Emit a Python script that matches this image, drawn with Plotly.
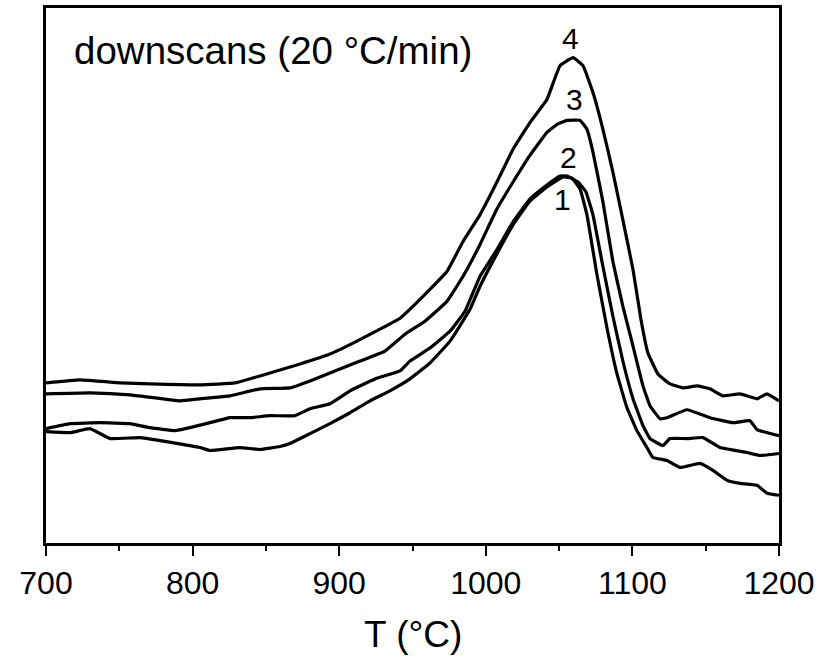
import plotly.graph_objects as go

FONT = "Liberation Sans, Arial, sans-serif"

# Curve 1 (downscan 1)
T1 = [700.0, 716.4, 730.0, 743.7, 764.1, 777.8, 805.0, 811.9, 832.3, 846.0, 859.6, 866.4,
      880.1, 893.7, 907.4, 921.0, 934.6, 948.3, 961.9, 975.6, 989.2, 996.0, 1007.6, 1018.6,
      1030.2, 1041.7, 1052.7, 1058.8, 1064.3, 1069.0, 1075.8, 1082.7, 1089.5, 1096.3, 1103.1,
      1109.9, 1114.0, 1123.6, 1132.5, 1146.1, 1154.9, 1164.5, 1173.4, 1185.0, 1191.8, 1200.0]
S1 = [112, 111, 115, 105, 106, 103, 96, 93, 96, 94, 97, 100,
      110, 120, 131, 143, 153, 165, 181, 203, 235, 258, 291, 320,
      344, 358, 368, 367, 356, 330, 270, 216, 170, 136, 113,
      96, 86, 83, 76, 80, 73, 63, 60, 58, 50, 48]

# Curve 2
T2 = [700.0, 716.4, 736.8, 757.3, 770.9, 788.0, 798.2, 811.9, 825.5, 839.2, 852.8, 869.8,
      880.1, 893.7, 907.4, 924.4, 941.5, 948.3, 961.9, 975.6, 985.8, 996.0, 1007.6, 1018.6,
      1030.2, 1041.7, 1050.6, 1055.4, 1062.9, 1068.3, 1073.1, 1079.9, 1086.7, 1093.5, 1100.4,
      1107.2, 1112.0, 1120.9, 1125.6, 1137.2, 1148.2, 1159.7, 1178.2, 1187.0, 1200.0]
S2 = [115, 120, 121, 120, 116, 113, 116, 121, 126, 126, 128, 128,
      135, 140, 153, 165, 173, 183, 196, 213, 233, 268, 295, 323,
      346, 360, 369, 369, 363, 353, 330, 278, 228, 183, 145,
      118, 105, 98, 105, 105, 106, 96, 91, 88, 90]

# Curve 3
T3 = [700.0, 730.0, 757.3, 791.4, 805.0, 825.5, 846.0, 866.4, 880.1, 900.5, 914.2, 931.2,
      944.9, 958.5, 973.5, 984.4, 996.0, 1007.6, 1018.6, 1030.2, 1041.7, 1048.6, 1055.4,
      1064.3, 1069.0, 1073.1, 1079.9, 1086.7, 1093.5, 1100.4, 1107.2, 1112.0, 1118.8, 1123.6,
      1137.2, 1152.9, 1168.6, 1180.2, 1185.0, 1200.0]
S3 = [150, 151, 149, 143, 145, 148, 155, 156, 163, 175, 183, 193,
      210, 223, 243, 268, 300, 336, 363, 390, 413, 421, 425,
      425, 416, 393, 343, 283, 238, 198, 158, 138, 125, 126,
      134, 126, 121, 123, 114, 108]

# Curve 4
T4 = [700.0, 723.2, 750.5, 770.9, 805.0, 828.9, 846.0, 859.6, 873.3, 893.7, 910.8, 927.8,
      941.5, 951.7, 961.9, 973.5, 984.4, 996.0, 1007.6, 1018.6, 1030.2, 1041.7, 1050.6,
      1059.5, 1066.3, 1073.1, 1079.9, 1086.7, 1093.5, 1100.4, 1105.8, 1110.6, 1117.4,
      1125.6, 1134.5, 1144.1, 1152.9, 1161.8, 1173.4, 1185.0, 1191.8, 1200.0]
S4 = [161, 164, 161, 160, 159, 161, 168, 174, 180, 190, 202, 215,
      226, 240, 255, 273, 303, 330, 363, 396, 423, 446, 480,
      488, 480, 453, 416, 373, 325, 275, 225, 191, 170,
      160, 156, 158, 155, 148, 150, 145, 150, 143]

curves = [(T1, S1), (T2, S2), (T3, S3), (T4, S4)]

# curve labels
label_text = ["1", "2", "3", "4"]
label_T = [1052.0, 1056.1, 1060.8, 1058.1]
label_S = [345, 388, 446, 507]

x_ticks = [700, 800, 900, 1000, 1100, 1200]

fig = go.Figure()
for T, S in curves:
    fig.add_trace(go.Scatter(x=T, y=S, mode="lines",
                             line=dict(color="black", width=3.2, shape="spline", smoothing=0.3),
                             showlegend=False, hoverinfo="skip"))

for t, xx, yy in zip(label_text, label_T, label_S):
    fig.add_annotation(x=xx, y=yy, text=t, showarrow=False,
                       font=dict(family=FONT, size=30, color="black"),
                       xanchor="center", yanchor="middle")

fig.add_annotation(xref="paper", yref="paper", x=0.035, y=0.92,
                   text="downscans (20 °C/min)", showarrow=False,
                   font=dict(family=FONT, size=38.5, color="black"),
                   xanchor="left", yanchor="middle")

fig.add_annotation(xref="paper", yref="paper", x=0.5, y=-0.171,
                   text="T (°C)", showarrow=False,
                   font=dict(family=FONT, size=37, color="black"),
                   xanchor="center", yanchor="middle")

fig.update_layout(
    width=833, height=658,
    margin=dict(l=46, r=54, t=5, b=115),
    paper_bgcolor="white", plot_bgcolor="white",
    font=dict(family=FONT, color="black"),
)
fig.update_xaxes(range=[700, 1200], tickvals=x_ticks, ticks="outside", ticklen=10,
                 tickwidth=2, tickcolor="black", showline=True, linewidth=2.5,
                 linecolor="black", mirror=True, showgrid=False, zeroline=False,
                 tickfont=dict(family=FONT, size=32, color="black"),
                 minor=dict(dtick=50, tick0=700, ticks="outside", ticklen=5,
                            tickwidth=2, tickcolor="black", showgrid=False))
fig.update_yaxes(range=[0, 538], showticklabels=False, ticks="", showline=True,
                 linewidth=2.5, linecolor="black", mirror=True, showgrid=False,
                 zeroline=False)

fig.write_html("out.html")
